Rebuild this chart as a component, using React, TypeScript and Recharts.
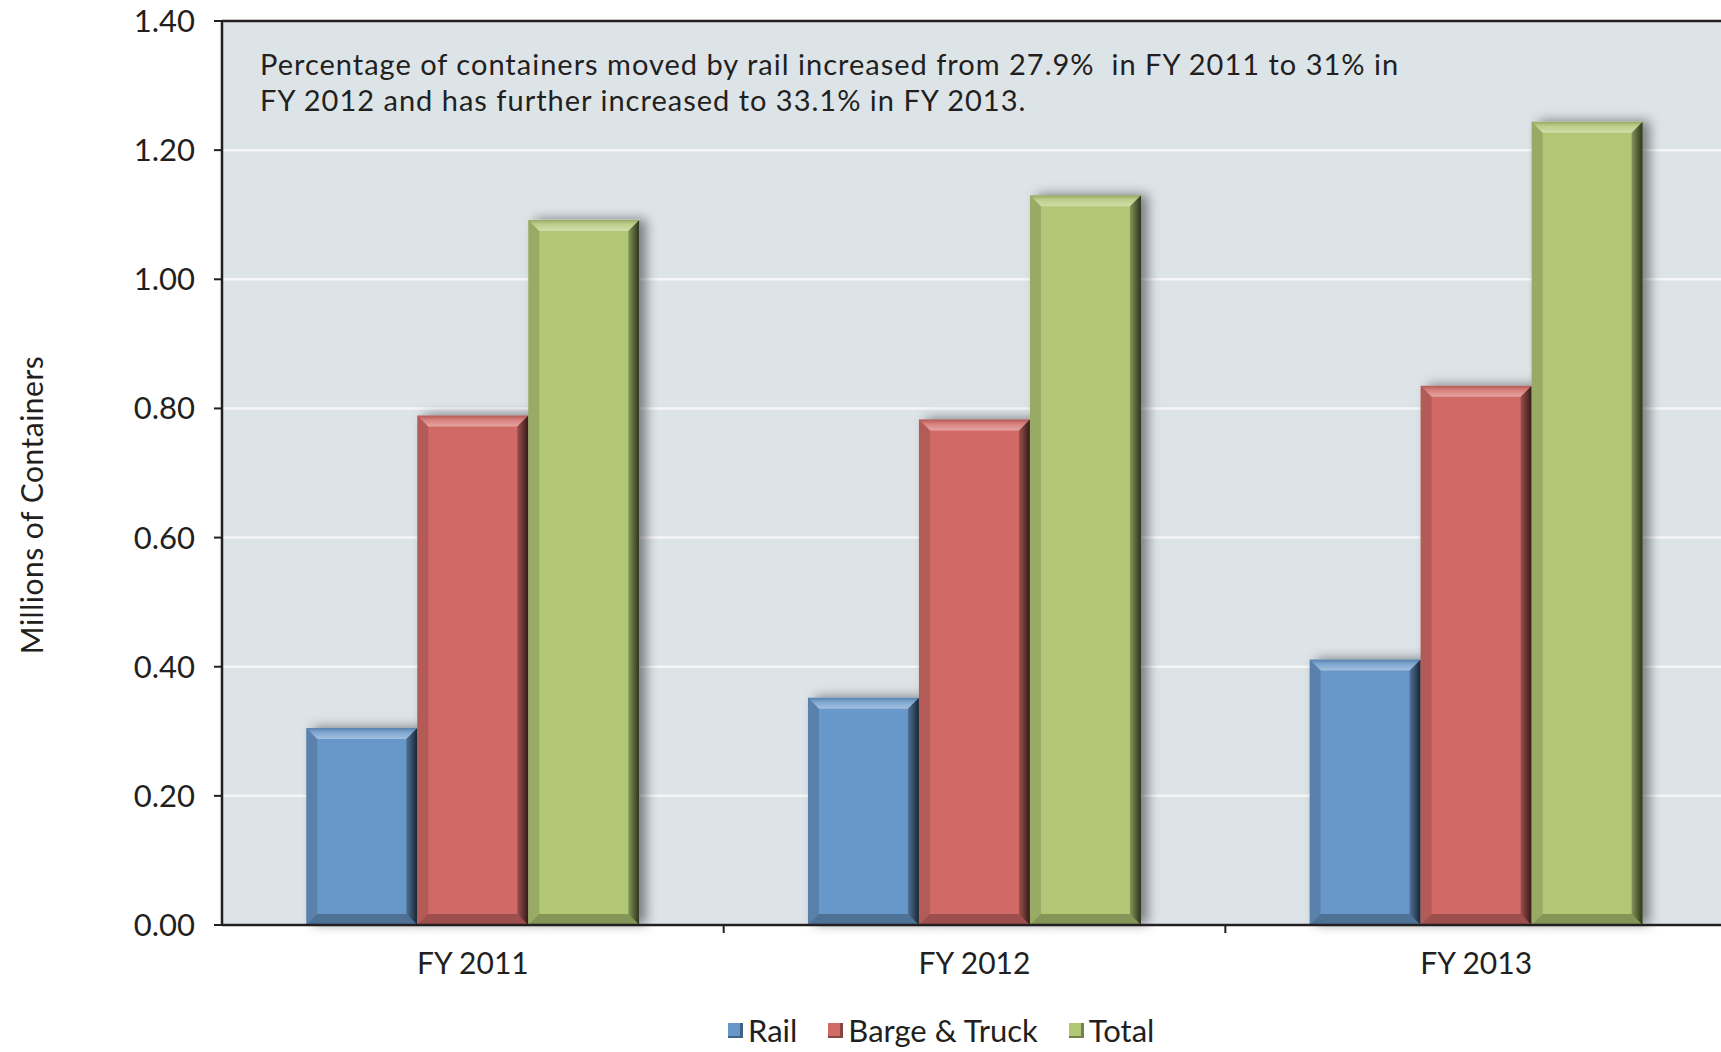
import { BarChart, Bar, XAxis, YAxis, CartesianGrid, ReferenceLine, Legend } from 'recharts';

const categories = ['FY 2011', 'FY 2012', 'FY 2013'];
const railValues = [0.305, 0.352, 0.411];
const bargeTruckValues = [0.789, 0.783, 0.835];
const totalValues = [1.092, 1.13, 1.244];
const yTicks = [0, 0.2, 0.4, 0.6, 0.8, 1.0, 1.2, 1.4];
const noteLines = [
  'Percentage of containers moved by rail increased from 27.9%  in FY 2011 to 31% in',
  'FY 2012 and has further increased to 33.1% in FY 2013.',
];
const yLabel = 'Millions of Containers';

const series = [
  { key: 'rail', name: 'Rail', color: '#6797C9' },
  { key: 'barge', name: 'Barge & Truck', color: '#D16B66' },
  { key: 'total', name: 'Total', color: '#B1C776' },
];

const data = categories.map((year, i) => ({
  year,
  rail: railValues[i],
  barge: bargeTruckValues[i],
  total: totalValues[i],
}));

const W = 1728;
const H = 1052;
const FONT = 'Lato, "Open Sans", sans-serif';
const INK = '#231F20';
const plotLeft = 222;
const plotRight = W - 1;
const band = (plotRight - plotLeft) / categories.length;

function BevelBar(props: any) {
  const { x, y, width: w, height: h, fill } = props;
  if (!w || !h || h <= 0) return null;
  const b = Math.min(11, w / 4, h / 4);
  const r = x + w;
  const btm = y + h;
  return (
    <g>
      <rect x={x} y={y} width={w} height={h} fill={fill} filter="url(#barShadow)" />
      <polygon
        points={`${x},${y} ${r},${y} ${r - b},${y + b} ${x + b},${y + b}`}
        fill="url(#topShade)"
      />
      <polygon
        points={`${x},${y} ${x + b},${y + b} ${x + b},${btm - b} ${x},${btm}`}
        fill="#000"
        fillOpacity={0.14}
      />
      <polygon
        points={`${x},${btm} ${x + b},${btm - b} ${r - b},${btm - b} ${r},${btm}`}
        fill="#000"
        fillOpacity={0.25}
      />
      <polygon
        points={`${r},${y} ${r},${btm} ${r - b},${btm - b} ${r - b},${y + b}`}
        fill="url(#rightShade)"
      />
    </g>
  );
}

function XTick(props: any) {
  const { x, y, payload } = props;
  return (
    <g>
      <line x1={x + band / 2} x2={x + band / 2} y1={y} y2={y + 8} stroke={INK} strokeWidth={2} />
      <text x={x} y={y + 49} textAnchor="middle" fill={INK} fontSize={30} fontFamily={FONT}>
        {payload.value}
      </text>
    </g>
  );
}

function LegendContent() {
  return (
    <div
      style={{
        height: 40,
        display: 'flex',
        alignItems: 'center',
        paddingLeft: 728,
        fontFamily: FONT,
        fontSize: 31,
        color: INK,
      }}
    >
      {series.map((s) => (
        <div key={s.key} style={{ display: 'flex', alignItems: 'center', marginRight: 31 }}>
          <span
            style={{
              width: 15,
              height: 15,
              background: s.color,
              boxShadow: 'inset -3px -2px 0 rgba(0,0,0,0.35)',
              marginRight: 5,
            }}
          />
          <span>{s.name}</span>
        </div>
      ))}
    </div>
  );
}

export default function App() {
  return (
    <div style={{ position: 'relative', width: W, height: H, background: '#fff' }}>
      <style>{'body{margin:0;overflow:hidden;}'}</style>
      <svg width={0} height={0} style={{ position: 'absolute' }}>
        <defs>
          <filter id="barShadow" x="-20%" y="-10%" width="150%" height="130%">
            <feDropShadow dx={7} dy={-1} stdDeviation={6} floodColor="#000" floodOpacity={0.45} />
          </filter>
          <linearGradient id="rightShade" x1="0" y1="0" x2="1" y2="0">
            <stop offset="0%" stopColor="#000" stopOpacity={0.25} />
            <stop offset="100%" stopColor="#000" stopOpacity={0.75} />
          </linearGradient>
          <linearGradient id="topShade" x1="0" y1="0" x2="0" y2="1">
            <stop offset="0%" stopColor="#000" stopOpacity={0.15} />
            <stop offset="40%" stopColor="#fff" stopOpacity={0.15} />
            <stop offset="100%" stopColor="#fff" stopOpacity={0.4} />
          </linearGradient>
        </defs>
      </svg>
      <BarChart
        width={W}
        height={H}
        data={data}
        margin={{ top: 21, right: 1, left: 0, bottom: 2 }}
        barCategoryGap="16.8%"
        barGap={0}
      >
        <CartesianGrid vertical={false} stroke="#F4F6F7" strokeWidth={2.5} fill="#DDE4E8" />
        <XAxis
          dataKey="year"
          tick={<XTick />}
          tickLine={false}
          tickSize={0}
          tickMargin={0}
          height={85}
          axisLine={{ stroke: INK, strokeWidth: 2.5 }}
          interval={0}
        />
        <YAxis
          domain={[0, 1.4]}
          ticks={yTicks}
          width={222}
          tickFormatter={(v: number) => v.toFixed(2)}
          tick={{ fill: INK, fontSize: 31, fontFamily: FONT }}
          tickSize={8}
          tickMargin={19}
          tickLine={{ stroke: INK, strokeWidth: 2 }}
          axisLine={{ stroke: INK, strokeWidth: 2.5 }}
        />
        <ReferenceLine y={1.4} stroke={INK} strokeWidth={2.5} />
        <Legend verticalAlign="bottom" content={<LegendContent />} />
        {series.map((s) => (
          <Bar
            key={s.key}
            dataKey={s.key}
            name={s.name}
            fill={s.color}
            shape={<BevelBar />}
            isAnimationActive={false}
          />
        ))}
      </BarChart>
      <div
        style={{
          position: 'absolute',
          left: 260,
          top: 46,
          fontFamily: FONT,
          fontSize: 29,
          letterSpacing: 1,
          lineHeight: '36px',
          color: INK,
          whiteSpace: 'pre',
        }}
      >
        {noteLines.map((l) => (
          <div key={l}>{l}</div>
        ))}
      </div>
      <div
        style={{
          position: 'absolute',
          left: 31,
          top: 505,
          transform: 'translate(-50%, -50%) rotate(-90deg)',
          fontFamily: FONT,
          fontSize: 30,
          letterSpacing: 0.5,
          color: INK,
          whiteSpace: 'nowrap',
        }}
      >
        {yLabel}
      </div>
    </div>
  );
}
